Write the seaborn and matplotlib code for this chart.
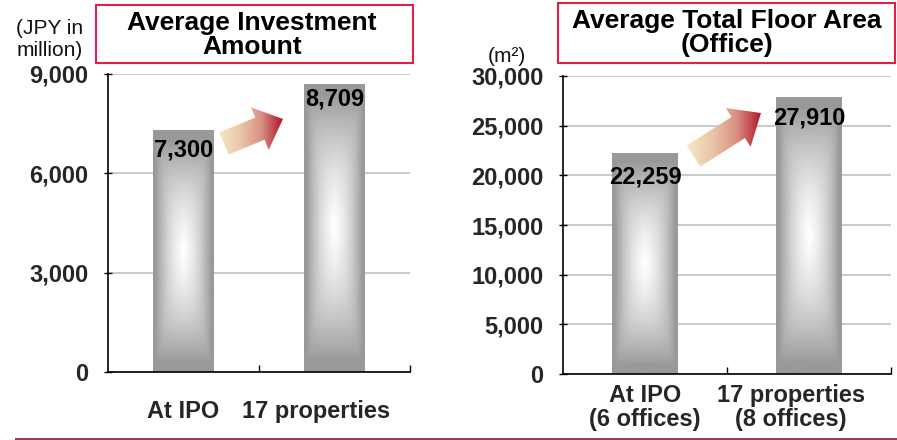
import numpy as np
import pandas as pd
import matplotlib
matplotlib.use("Agg")
import matplotlib.pyplot as plt
import seaborn as sns
from matplotlib.patches import Rectangle, Polygon
from matplotlib.ticker import FuncFormatter
from matplotlib.transforms import ScaledTranslation
from matplotlib.colors import LinearSegmentedColormap

# ---- data -------------------------------------------------------------
invest_categories = ["At IPO", "17 properties"]
invest_values = [7300, 8709]            # JPY in million
invest_ticks = [0, 3000, 6000, 9000]

area_categories = ["At IPO\n(6 offices)", "17 properties\n(8 offices)"]
area_values = [22259, 27910]            # m2
area_ticks = [0, 5000, 10000, 15000, 20000, 25000, 30000]

invest_title = "Average Investment\nAmount"
area_title = "Average Total Floor Area\n(Office)"
invest_unit = "(JPY in\nmillion)"
area_unit = "(m\u00b2)"

# ---- style ------------------------------------------------------------
sns.set_theme(style="white")
plt.rcParams["font.family"] = ["Liberation Sans", "DejaVu Sans"]

W, H = 897, 440
fig = plt.figure(figsize=(W / 100, H / 100), dpi=100)
fig.patch.set_facecolor("white")

axL = fig.add_axes([108 / W, 1 - 372 / H, 302 / W, 298 / H])
axR = fig.add_axes([563 / W, 1 - 374 / H, 328 / W, 298 / H])

GRID = "#c6c6c6"
BORDER = "#e0204a"


def bar_shading(nx=80, ny=240):
    """Rectangular path shading: gray rim, brightening towards the centre."""
    x = np.linspace(0, 1, nx)
    y = np.linspace(0, 1, ny)
    X, Y = np.meshgrid(x, y)
    dx = np.clip(1 - np.abs(2 * X - 1), 1e-4, 1)
    dy = np.clip(1 - np.abs(2 * Y - 1), 1e-4, 1)
    k = 3.0
    t = (dx ** -k + dy ** -k) ** (-1 / k)
    t = t / t.max()
    t = np.clip((t - 0.10) / 0.90, 0, 1)
    return np.clip(0.60 + 0.40 * t ** 0.9, 0, 1)


def draw_panel(ax, cats, vals, ticks, ylim, label_offsets, xpad):
    df = pd.DataFrame({"cat": cats, "val": vals})
    sns.barplot(data=df, x="cat", y="val", ax=ax, width=0.4,
                color="#999999", saturation=1, edgecolor="none")
    shade = bar_shading()
    for patch in list(ax.patches):
        x0, w, h = patch.get_x(), patch.get_width(), patch.get_height()
        im = ax.imshow(shade, cmap="gray", vmin=0, vmax=1, origin="lower",
                       extent=(x0, x0 + w, 0, h), aspect="auto",
                       interpolation="bilinear", zorder=patch.get_zorder() + 0.1)
        im.set_clip_path(patch)
    for i, (v, off) in enumerate(zip(vals, label_offsets)):
        ax.annotate(f"{v:,}", xy=(i, v), xytext=(0, -off), textcoords="offset points",
                    ha="center", va="center", fontsize=17, fontweight="bold",
                    color="black", zorder=10)

    ax.set_xlim(-0.5, 1.5)
    ax.set_ylim(*ylim)
    ax.set_yticks(ticks)
    ax.yaxis.set_major_formatter(FuncFormatter(lambda v, p: f"{int(v):,}"))
    ax.yaxis.grid(True, color=GRID, lw=1.3)
    ax.xaxis.grid(False)
    ax.set_axisbelow(True)
    ax.set_xlabel("")
    ax.set_ylabel("")
    for s in ("top", "right"):
        ax.spines[s].set_visible(False)
    for s in ("left", "bottom"):
        ax.spines[s].set_color("black")
        ax.spines[s].set_linewidth(1.2)
    ax.tick_params(axis="y", direction="inout", length=6, width=1.0, color="black",
                   pad=11, labelsize=17, left=True)
    ax.tick_params(axis="x", which="major", length=0, pad=xpad, labelsize=17)
    ax.set_xticks([0.5, 1.5], minor=True)
    ax.tick_params(axis="x", which="minor", direction="in", length=5, width=1.0,
                   color="black", bottom=True)
    for lab in ax.get_yticklabels():
        lab.set_fontweight("bold")
    labs = ax.get_xticklabels()
    for lab in labs:
        lab.set_fontweight("bold")
        lab.set_linespacing(1.05)
    # the second category label sits a little to the left of its bar
    labs[1].set_transform(labs[1].get_transform()
                          + ScaledTranslation(-0.18, 0, fig.dpi_scale_trans))


draw_panel(axL, invest_categories, invest_values, invest_ticks, (0, 9000),
           [14, 11], 20)
draw_panel(axR, area_categories, area_values, area_ticks, (0, 30000),
           [17, 15], 7)

# ---- overlay in pixel coordinates for titles, arrows and rule ----------
ov = fig.add_axes([0, 0, 1, 1], zorder=5)
ov.set_xlim(0, W)
ov.set_ylim(H, 0)
ov.axis("off")

for (x0, y0, w, h), title, cx, cy in [((96, 5, 317, 58), invest_title, 252, 35),
                                      ((558, 3, 337, 60), area_title, 727, 33)]:
    ov.add_patch(Rectangle((x0, y0), w, h, fill=False, edgecolor=BORDER, lw=1.5))
    ov.text(cx, cy, title, ha="center", va="center", fontsize=19,
            fontweight="bold", linespacing=1.05, color="black")

ov.text(50, 39, invest_unit, ha="center", va="center", fontsize=15,
        linespacing=1.2, color="#111111")
ov.text(507, 56, area_unit, ha="center", va="center", fontsize=15, color="#111111")

ov.plot([15, W], [439, 439], color="#9e1f3f", lw=1.3, solid_capstyle="butt")

arrow_cmap = LinearSegmentedColormap.from_list(
    "warm", ["#f6e8c4", "#e9c6a8", "#d98f82", "#b01428"])


def gradient_arrow(tail, tip, shaft_w, head_w, head_l):
    tail, tip = np.array(tail, float), np.array(tip, float)
    u = (tip - tail) / np.linalg.norm(tip - tail)
    n = np.array([-u[1], u[0]])
    base = tip - u * head_l
    pts = [tail + n * shaft_w / 2, base + n * shaft_w / 2, base + n * head_w / 2,
           tip, base - n * head_w / 2, base - n * shaft_w / 2, tail - n * shaft_w / 2]
    pts = np.array(pts)
    poly = Polygon(pts, closed=True, facecolor="none", edgecolor="none")
    ov.add_patch(poly)
    x0, x1 = pts[:, 0].min(), pts[:, 0].max()
    y0, y1 = pts[:, 1].min(), pts[:, 1].max()
    grad = np.tile(np.linspace(0, 1, 200), (10, 1))
    im = ov.imshow(grad, cmap=arrow_cmap, extent=(x0, x1, y1, y0), aspect="auto",
                   interpolation="bilinear", zorder=6)
    im.set_clip_path(poly)


gradient_arrow((224, 143.5), (283, 119), 24, 46, 25)
gradient_arrow((693.5, 156), (761, 113), 25, 46, 27)
ov.set_xlim(0, W)
ov.set_ylim(H, 0)

fig.savefig("out.png", dpi=100, facecolor="white")
